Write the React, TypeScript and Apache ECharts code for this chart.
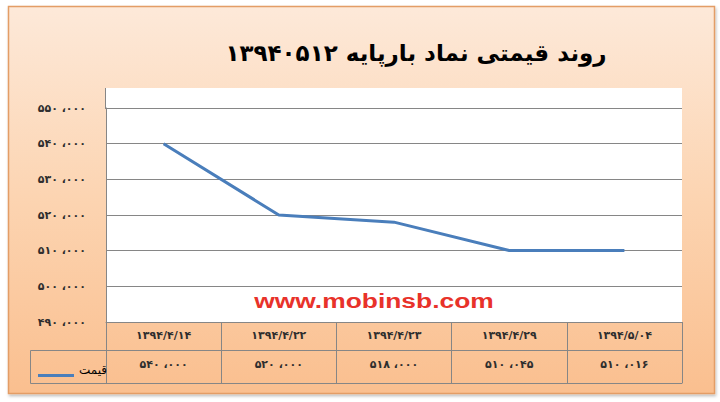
import React, { useEffect, useRef } from 'react';
import * as echarts from 'echarts';

const categories = ['۱۳۹۴/۴/۱۴', '۱۳۹۴/۴/۲۲', '۱۳۹۴/۴/۲۳', '۱۳۹۴/۴/۲۹', '۱۳۹۴/۵/۰۴'];
const prices = [540000, 520000, 518000, 510045, 510016];
const seriesName = 'قیمت';
const titleText = 'روند قیمتی نماد بارپایه ۱۳۹۴۰۵۱۲';
const watermarkText = 'www.mobinsb.com';
const yMin = 490000;
const yMax = 550000;
const yStep = 10000;

const fa = (s: string) => s.replace(/[0-9]/g, (d) => '۰۱۲۳۴۵۶۷۸۹'[Number(d)]);
const fmt = (v: number) =>
  fa(String(Math.floor(v / 1000))) + ' ،' + fa(String(Math.round(v % 1000)).padStart(3, '0'));

const GRAY = '#868686';
const FONT = 'DejaVu Sans';

export default function App() {
  const ref = useRef<HTMLDivElement>(null);
  useEffect(() => {
    if (!ref.current) return;
    const chart = echarts.init(ref.current, undefined, { renderer: 'svg' });
    const labelStyle = { fontSize: 11, fontWeight: 'bold' as const, color: '#2e2e2e', fontFamily: FONT };
    chart.setOption({
      animation: false,
      backgroundColor: '#ffffff',
      textStyle: { fontFamily: FONT },
      title: {
        text: titleText,
        left: 411,
        top: 36,
        textAlign: 'center',
        textStyle: { fontSize: 23, fontWeight: 'bold', fontFamily: FONT, color: '#000000' },
      },
      legend: {
        data: [seriesName],
        left: 33,
        top: 358,
        icon: 'path://M0,0 L0.1,0 L0.1,0.1 Z M0,11 L36,11 L36,14 L0,14 Z',
        itemWidth: 36,
        itemHeight: 14,
        textStyle: { fontSize: 12, color: '#000000', fontFamily: FONT },
      },
      graphic: [
        {
          type: 'rect',
          z: -10,
          shape: { x: 8.5, y: 6.5, width: 706, height: 387 },
          style: {
            fill: new echarts.graphic.LinearGradient(0, 0, 0, 1, [
              { offset: 0, color: '#fde9d9' },
              { offset: 0.5, color: '#fcd4b1' },
              { offset: 1, color: '#fabf8f' },
            ]),
            stroke: '#e39d66',
            lineWidth: 1.5,
            shadowBlur: 3,
            shadowColor: 'rgba(0,0,0,0.25)',
            shadowOffsetX: 1,
            shadowOffsetY: 2,
          },
        },
        {
          type: 'rect',
          z: -5,
          shape: { x: 106, y: 88, width: 576, height: 21 },
          style: { fill: '#ffffff' },
        },
        {
          type: 'line',
          shape: { x1: 105.5, y1: 88, x2: 105.5, y2: 109 },
          style: { stroke: GRAY, lineWidth: 1 },
        },
        {
          type: 'polyline',
          shape: { points: [[106, 350.5], [30.5, 350.5], [30.5, 383.5], [106, 383.5]] },
          style: { stroke: GRAY, lineWidth: 1, fill: 'none' },
        },
        {
          type: 'text',
          x: 374,
          y: 301,
          scaleX: 1.32,
          style: {
            text: watermarkText,
            fontSize: 20,
            fontWeight: 'bold',
            fontFamily: 'Liberation Sans',
            fill: '#e8322a',
            align: 'center',
            verticalAlign: 'middle',
          },
        },
      ],
      grid: {
        left: 106,
        right: 38,
        top: 108,
        bottom: 80,
        show: true,
        backgroundColor: '#ffffff',
        borderWidth: 0,
      },
      yAxis: {
        type: 'value',
        min: yMin,
        max: yMax,
        interval: yStep,
        axisLine: { show: true, lineStyle: { color: GRAY } },
        axisTick: { show: false },
        splitLine: { lineStyle: { color: GRAY, width: 1 } },
        axisLabel: { ...labelStyle, margin: 20, formatter: (v: number) => fmt(v) },
      },
      xAxis: [
        {
          type: 'category',
          data: categories,
          boundaryGap: true,
          position: 'bottom',
          axisLine: { show: true, lineStyle: { color: GRAY } },
          axisTick: { show: true, length: 61, interval: 0, lineStyle: { color: GRAY } },
          axisLabel: { ...labelStyle, margin: 8, interval: 0 },
          splitLine: { show: false },
        },
        {
          type: 'category',
          data: prices.map(fmt),
          boundaryGap: true,
          position: 'bottom',
          offset: 28,
          axisLine: { show: true, lineStyle: { color: GRAY } },
          axisTick: { show: false },
          axisLabel: { ...labelStyle, margin: 9, interval: 0 },
          splitLine: { show: false },
        },
        {
          type: 'category',
          data: categories,
          boundaryGap: true,
          position: 'bottom',
          offset: 61,
          axisLine: { show: true, lineStyle: { color: GRAY } },
          axisTick: { show: false },
          axisLabel: { show: false },
          splitLine: { show: false },
        },
      ],
      series: [
        {
          name: seriesName,
          type: 'line',
          xAxisIndex: 0,
          data: prices,
          showSymbol: false,
          symbol: 'none',
          lineStyle: { color: '#4a7ebb', width: 3 },
          itemStyle: { color: '#4a7ebb' },
        },
      ],
    });
    return () => chart.dispose();
  }, []);
  return <div ref={ref} style={{ position: 'fixed', left: 0, top: 0, width: 720, height: 402 }} />;
}
